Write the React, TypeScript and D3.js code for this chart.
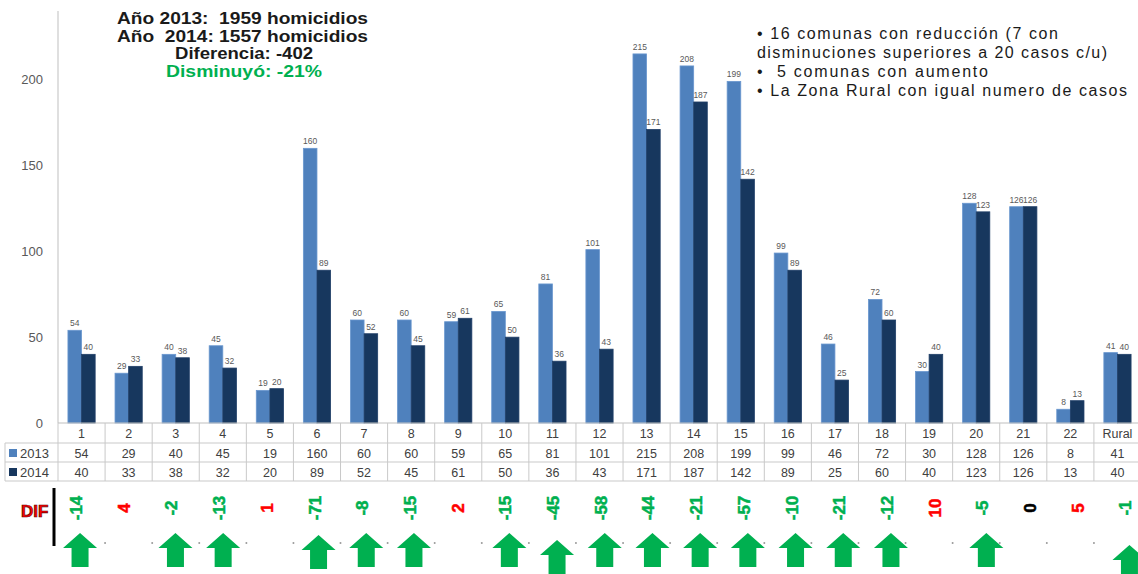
import React from 'react';
import * as d3 from 'd3';

const categories = ['1','2','3','4','5','6','7','8','9','10','11','12','13','14','15','16','17','18','19','20','21','22','Rural'];
const values2013 = [54,29,40,45,19,160,60,60,59,65,81,101,215,208,199,99,46,72,30,128,126,8,41];
const values2014 = [40,33,38,32,20,89,52,45,61,50,36,43,171,187,142,89,25,60,40,123,126,13,40];
const difValues = [-14,4,-2,-13,1,-71,-8,-15,2,-15,-45,-58,-44,-21,-57,-10,-21,-12,10,-5,0,5,-1];
const seriesNames = ['2013','2014'];
const yTicks = [0,50,100,150,200];
const summaryLines = ['Año 2013:  1959 homicidios','Año  2014: 1557 homicidios','Diferencia: -402','Disminuyó: -21%'];
const noteLines = ['• 16 comunas con reducción (7 con','disminuciones superiores a 20 casos c/u)','•  5 comunas con aumento','• La Zona Rural con igual numero de casos'];
// small vertical nudges of some arrows as drawn in the original
const arrowDrop: Record<string, number> = { '6': 2, '11': 7, 'Rural': 12 };

const W = 1138, H = 574;
const COLORS = ['#4F81BD', '#17375E'];
const GREEN = '#00B050';
const FONT = 'Liberation Sans, Arial, sans-serif';

export default function App() {
  const x = d3.scaleBand<string>().domain(categories).range([58, 1141]).padding(0);
  const inner = d3.scaleBand<string>().domain(seriesNames).range([0, x.bandwidth()]).paddingOuter(0.73).paddingInner(0);
  const y = d3.scaleLinear().domain([0, 240]).range([423, 11]);
  const xd = d3.scaleBand<string>().domain(categories).range([52.2, 52.2 + 23 * 47.7]);

  const rowTop = [423, 443, 462, 481];
  const series = [values2013, values2014];
  const tableColor = '#404040';
  const gridColor = '#C9C9C9';
  const summarySpans = [[117, 368], [117, 368], [175, 313], [166, 322]];
  const noteEnds = [1058, 1107, 988, 1127];

  return (
    <div style={{ position: 'absolute', left: 0, top: 0 }}>
      <svg width={W} height={H} style={{ display: 'block', background: '#fff' }}>
        {/* Y axis */}
        <line x1={58} x2={58} y1={y(240)} y2={y(0)} stroke="#BFBFBF" strokeWidth={1} />
        {yTicks.map(t => (
          <text key={t} x={43} y={y(t)} dy="0.35em" textAnchor="end" fontFamily={FONT} fontSize={13} fill="#595959">{t}</text>
        ))}
        {/* bars */}
        {categories.map((c, i) => (
          <g key={c} transform={`translate(${x(c)},0)`}>
            {seriesNames.map((s, k) => {
              const v = series[k][i];
              const bx = inner(s)!;
              const bw = inner.bandwidth();
              return (
                <g key={s}>
                  <rect x={bx} y={y(v)} width={bw} height={y(0) - y(v)} fill={COLORS[k]} stroke={k === 0 ? '#6A97CF' : '#203F68'} strokeWidth={0.8} />
                  <text x={bx + bw / 2} y={y(v) - 4} textAnchor="middle" fontFamily={FONT} fontSize={8.5} fill="#595959">{v}</text>
                </g>
              );
            })}
          </g>
        ))}
        {/* x axis line */}
        <line x1={58} x2={1141} y1={423} y2={423} stroke="#BFBFBF" strokeWidth={1} />
        {/* data table */}
        <line x1={5} x2={1141} y1={rowTop[1]} y2={rowTop[1]} stroke={gridColor} />
        <line x1={5} x2={1141} y1={rowTop[2]} y2={rowTop[2]} stroke={gridColor} />
        <line x1={5} x2={1141} y1={rowTop[3]} y2={rowTop[3]} stroke={gridColor} />
        <line x1={5} x2={5} y1={rowTop[1]} y2={rowTop[3]} stroke={gridColor} />
        {categories.map(c => (
          <line key={'v' + c} x1={x(c)! + x.bandwidth()} x2={x(c)! + x.bandwidth()} y1={423} y2={481} stroke={gridColor} />
        ))}
        <line x1={58} x2={58} y1={423} y2={481} stroke={gridColor} />
        {categories.map((c, i) => (
          <g key={'t' + c}>
            <text x={x(c)! + x.bandwidth() / 2} y={(rowTop[0] + rowTop[1]) / 2 + 1} dy="0.35em" textAnchor="middle" fontFamily={FONT} fontSize={12.5} fill={tableColor}>{c}</text>
            <text x={x(c)! + x.bandwidth() / 2} y={(rowTop[1] + rowTop[2]) / 2 + 1} dy="0.35em" textAnchor="middle" fontFamily={FONT} fontSize={12.5} fill={tableColor}>{values2013[i]}</text>
            <text x={x(c)! + x.bandwidth() / 2} y={(rowTop[2] + rowTop[3]) / 2 + 1} dy="0.35em" textAnchor="middle" fontFamily={FONT} fontSize={12.5} fill={tableColor}>{values2014[i]}</text>
          </g>
        ))}
        {seriesNames.map((s, k) => (
          <g key={'lg' + s}>
            <rect x={9} y={(rowTop[k + 1] + rowTop[k + 2]) / 2 - 3.5} width={8} height={8} fill={COLORS[k]} />
            <text x={20} y={(rowTop[k + 1] + rowTop[k + 2]) / 2 + 1} dy="0.35em" fontFamily={FONT} fontSize={13} fill={tableColor}>{s}</text>
          </g>
        ))}
        {/* DIF row */}
        <text x={21} y={517} fontFamily={FONT} fontWeight="bold" fontSize={17} fill="#FF0000" stroke="#5a0000" strokeWidth={0.7}>DIF</text>
        <line x1={54} x2={54} y1={488} y2={546} stroke="#000" strokeWidth={3} />
        {categories.map((c, i) => {
          const d = difValues[i];
          const cx = xd(c)! + xd.bandwidth() / 2;
          const col = d < 0 ? GREEN : d > 0 ? '#FF0000' : '#000';
          return (
            <text key={'d' + c} transform={`translate(${cx},508) rotate(-90)`} textAnchor="middle" dy="0.35em" fontFamily={FONT} fontWeight="bold" fontSize={17} fill={col} stroke={col} strokeWidth={0.5}>{d}</text>
          );
        })}
        {categories.map(c => (
          <circle key={'dot' + c} cx={x(c)! + x.bandwidth()} cy={543} r={1} fill="#9a9a9a" />
        ))}
        {categories.map((c, i) => {
          if (difValues[i] >= 0) return null;
          const cx = xd(c)! + xd.bandwidth() / 2 + 4;
          const top = 533 + (arrowDrop[c] || 0);
          const hw = 17, sw = 8.5, hh = 15, h = 34;
          const p = `M${cx},${top} L${cx + hw},${top + hh} L${cx + sw},${top + hh} L${cx + sw},${top + h} L${cx - sw},${top + h} L${cx - sw},${top + hh} L${cx - hw},${top + hh} Z`;
          return <path key={'a' + c} d={p} fill={GREEN} />;
        })}
        {/* summary text */}
        {summaryLines.map((t, i) => (
          <text key={'s' + i} x={summarySpans[i][0]} y={24 + i * 17.7} fontFamily={FONT} fontWeight="bold" fontSize={16} fill={i === 3 ? GREEN : '#1a1a1a'}
            textLength={summarySpans[i][1] - summarySpans[i][0]} lengthAdjust="spacingAndGlyphs" style={{ whiteSpace: 'pre' }}>{t}</text>
        ))}
        {noteLines.map((t, i) => (
          <text key={'n' + i} x={757} y={39 + i * 19} fontFamily={FONT} fontSize={16} fill="#1a1a1a"
            textLength={noteEnds[i] - 757} lengthAdjust="spacing" style={{ whiteSpace: 'pre' }}>{t}</text>
        ))}
      </svg>
    </div>
  );
}
